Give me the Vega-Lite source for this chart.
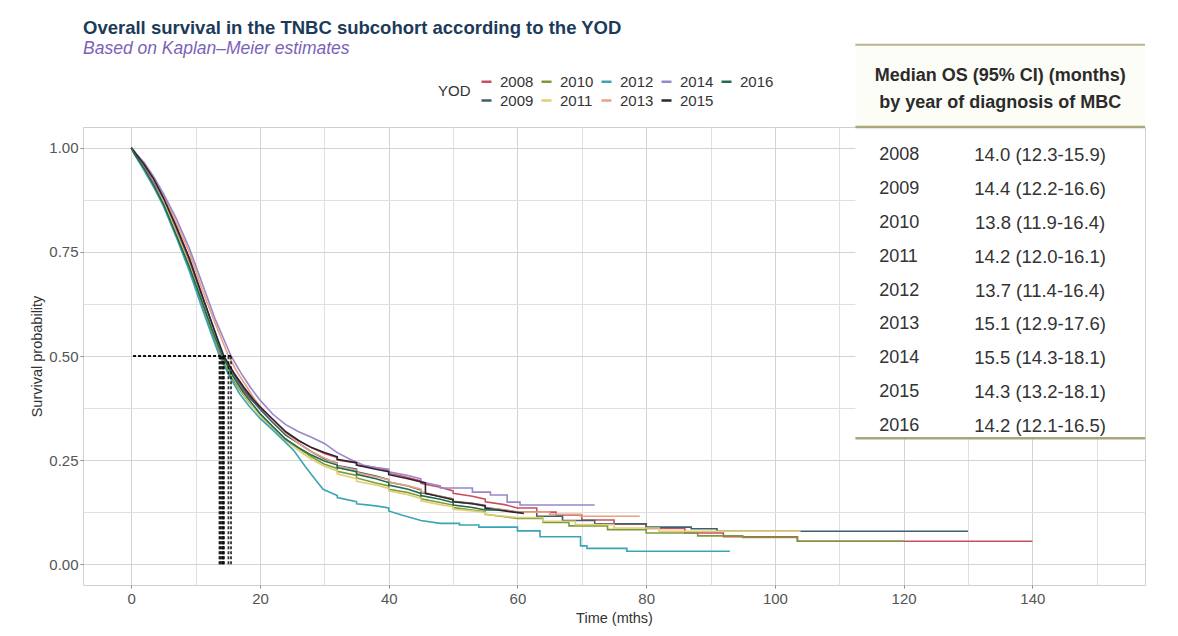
{
  "$schema": "https://vega.github.io/schema/vega-lite/v6.json",
  "width": 1062,
  "height": 458,
  "autosize": {"type": "none"},
  "padding": {"left": 83, "top": 127, "right": 33, "bottom": 51},
  "background": "white",
  "config": {
    "font": "Liberation Sans",
    "view": {"stroke": "#cfcfcf", "strokeWidth": 1},
    "axis": {"domain": false, "labelFont": "Liberation Sans", "labelColor": "#555555", "labelFontSize": 15, "titleFont": "Liberation Sans", "titleFontSize": 14.5, "titleFontWeight": "normal", "titleColor": "#333333", "tickColor": "#8a8a8a", "tickSize": 3, "gridWidth": 1}
  },
  "title": {
    "text": "Overall survival in the TNBC subcohort according to the YOD",
    "subtitle": "Based on Kaplan–Meier estimates",
    "anchor": "start",
    "frame": "group",
    "fontSize": 18.5,
    "fontWeight": "bold",
    "color": "#1c3b5a",
    "subtitleFontSize": 17.5,
    "subtitleFontStyle": "italic",
    "subtitleColor": "#7b62b8",
    "subtitlePadding": 3,
    "offset": -14
  },
  "datasets": {
    "km": [
      {"yod":"2008","t":0,"s":1},{"yod":"2008","t":0.5,"s":0.99},{"yod":"2008","t":2,"s":0.955},{"yod":"2008","t":3.5,"s":0.915},{"yod":"2008","t":5,"s":0.87},{"yod":"2008","t":7,"s":0.8},{"yod":"2008","t":9,"s":0.725},{"yod":"2008","t":11,"s":0.63},{"yod":"2008","t":12.5,"s":0.565},{"yod":"2008","t":14,"s":0.5},{"yod":"2008","t":15.5,"s":0.46},{"yod":"2008","t":17,"s":0.425},{"yod":"2008","t":18.5,"s":0.397},{"yod":"2008","t":20,"s":0.375},{"yod":"2008","t":22,"s":0.345},{"yod":"2008","t":24,"s":0.318},{"yod":"2008","t":26,"s":0.296},{"yod":"2008","t":28,"s":0.28},{"yod":"2008","t":30,"s":0.266},{"yod":"2008","t":32,"s":0.256},{"yod":"2008","t":32,"s":0.25},{"yod":"2008","t":35,"s":0.243},{"yod":"2008","t":35,"s":0.238},{"yod":"2008","t":38,"s":0.232},{"yod":"2008","t":40,"s":0.225},{"yod":"2008","t":40,"s":0.218},{"yod":"2008","t":42,"s":0.212},{"yod":"2008","t":45,"s":0.2},{"yod":"2008","t":45,"s":0.194},{"yod":"2008","t":48,"s":0.185},{"yod":"2008","t":50,"s":0.176},{"yod":"2008","t":50,"s":0.17},{"yod":"2008","t":53,"s":0.163},{"yod":"2008","t":55,"s":0.156},{"yod":"2008","t":55,"s":0.15},{"yod":"2008","t":58,"s":0.143},{"yod":"2008","t":60,"s":0.135},{"yod":"2008","t":63,"s":0.135},{"yod":"2008","t":63,"s":0.125},{"yod":"2008","t":66,"s":0.125},{"yod":"2008","t":66,"s":0.118},{"yod":"2008","t":70,"s":0.118},{"yod":"2008","t":70,"s":0.106},{"yod":"2008","t":75,"s":0.106},{"yod":"2008","t":75,"s":0.096},{"yod":"2008","t":80,"s":0.096},{"yod":"2008","t":80,"s":0.086},{"yod":"2008","t":86,"s":0.086},{"yod":"2008","t":86,"s":0.075},{"yod":"2008","t":92,"s":0.075},{"yod":"2008","t":92,"s":0.066},{"yod":"2008","t":103.5,"s":0.066},{"yod":"2008","t":103.5,"s":0.055},{"yod":"2008","t":140,"s":0.055},

      {"yod":"2009","t":0,"s":1},{"yod":"2009","t":0.5,"s":0.99},{"yod":"2009","t":2,"s":0.96},{"yod":"2009","t":3.5,"s":0.925},{"yod":"2009","t":5,"s":0.88},{"yod":"2009","t":7,"s":0.81},{"yod":"2009","t":9,"s":0.735},{"yod":"2009","t":11,"s":0.645},{"yod":"2009","t":12.5,"s":0.58},{"yod":"2009","t":14.4,"s":0.5},{"yod":"2009","t":16,"s":0.455},{"yod":"2009","t":17.5,"s":0.42},{"yod":"2009","t":19,"s":0.39},{"yod":"2009","t":20,"s":0.372},{"yod":"2009","t":22,"s":0.34},{"yod":"2009","t":24,"s":0.31},{"yod":"2009","t":26,"s":0.29},{"yod":"2009","t":28,"s":0.27},{"yod":"2009","t":30,"s":0.253},{"yod":"2009","t":32,"s":0.243},{"yod":"2009","t":32,"s":0.237},{"yod":"2009","t":35,"s":0.228},{"yod":"2009","t":35,"s":0.222},{"yod":"2009","t":38,"s":0.212},{"yod":"2009","t":40,"s":0.203},{"yod":"2009","t":40,"s":0.197},{"yod":"2009","t":43,"s":0.188},{"yod":"2009","t":45,"s":0.178},{"yod":"2009","t":45,"s":0.172},{"yod":"2009","t":48,"s":0.163},{"yod":"2009","t":50,"s":0.157},{"yod":"2009","t":50,"s":0.151},{"yod":"2009","t":53,"s":0.146},{"yod":"2009","t":55,"s":0.141},{"yod":"2009","t":55,"s":0.136},{"yod":"2009","t":58,"s":0.13},{"yod":"2009","t":60,"s":0.125},{"yod":"2009","t":63,"s":0.125},{"yod":"2009","t":63,"s":0.115},{"yod":"2009","t":67,"s":0.115},{"yod":"2009","t":67,"s":0.105},{"yod":"2009","t":72,"s":0.105},{"yod":"2009","t":72,"s":0.097},{"yod":"2009","t":80,"s":0.097},{"yod":"2009","t":80,"s":0.089},{"yod":"2009","t":87,"s":0.089},{"yod":"2009","t":87,"s":0.085},{"yod":"2009","t":91,"s":0.085},{"yod":"2009","t":91,"s":0.079},{"yod":"2009","t":130,"s":0.079},

      {"yod":"2010","t":0,"s":1},{"yod":"2010","t":0.5,"s":0.985},{"yod":"2010","t":2,"s":0.95},{"yod":"2010","t":3.5,"s":0.91},{"yod":"2010","t":5,"s":0.865},{"yod":"2010","t":7,"s":0.79},{"yod":"2010","t":9,"s":0.71},{"yod":"2010","t":11,"s":0.62},{"yod":"2010","t":12.5,"s":0.555},{"yod":"2010","t":13.8,"s":0.5},{"yod":"2010","t":15.5,"s":0.45},{"yod":"2010","t":17,"s":0.415},{"yod":"2010","t":18.5,"s":0.385},{"yod":"2010","t":20,"s":0.36},{"yod":"2010","t":22,"s":0.33},{"yod":"2010","t":24,"s":0.3},{"yod":"2010","t":26,"s":0.278},{"yod":"2010","t":28,"s":0.258},{"yod":"2010","t":30,"s":0.24},{"yod":"2010","t":32,"s":0.23},{"yod":"2010","t":32,"s":0.223},{"yod":"2010","t":35,"s":0.213},{"yod":"2010","t":35,"s":0.207},{"yod":"2010","t":38,"s":0.195},{"yod":"2010","t":40,"s":0.188},{"yod":"2010","t":40,"s":0.18},{"yod":"2010","t":43,"s":0.172},{"yod":"2010","t":45,"s":0.163},{"yod":"2010","t":45,"s":0.157},{"yod":"2010","t":48,"s":0.148},{"yod":"2010","t":50,"s":0.142},{"yod":"2010","t":50,"s":0.136},{"yod":"2010","t":53,"s":0.13},{"yod":"2010","t":55,"s":0.126},{"yod":"2010","t":55,"s":0.12},{"yod":"2010","t":58,"s":0.114},{"yod":"2010","t":60,"s":0.11},{"yod":"2010","t":64,"s":0.11},{"yod":"2010","t":64,"s":0.1},{"yod":"2010","t":68,"s":0.1},{"yod":"2010","t":68,"s":0.092},{"yod":"2010","t":74,"s":0.092},{"yod":"2010","t":74,"s":0.083},{"yod":"2010","t":80,"s":0.083},{"yod":"2010","t":80,"s":0.075},{"yod":"2010","t":88,"s":0.075},{"yod":"2010","t":88,"s":0.068},{"yod":"2010","t":95,"s":0.068},{"yod":"2010","t":95,"s":0.064},{"yod":"2010","t":103.5,"s":0.064},{"yod":"2010","t":103.5,"s":0.055},{"yod":"2010","t":120,"s":0.055},

      {"yod":"2011","t":0,"s":1},{"yod":"2011","t":0.5,"s":0.985},{"yod":"2011","t":2,"s":0.95},{"yod":"2011","t":3.5,"s":0.91},{"yod":"2011","t":5,"s":0.87},{"yod":"2011","t":7,"s":0.795},{"yod":"2011","t":9,"s":0.72},{"yod":"2011","t":11,"s":0.63},{"yod":"2011","t":12.5,"s":0.565},{"yod":"2011","t":14.2,"s":0.5},{"yod":"2011","t":15.8,"s":0.45},{"yod":"2011","t":17.3,"s":0.412},{"yod":"2011","t":18.8,"s":0.38},{"yod":"2011","t":20,"s":0.355},{"yod":"2011","t":22,"s":0.325},{"yod":"2011","t":24,"s":0.297},{"yod":"2011","t":26,"s":0.273},{"yod":"2011","t":28,"s":0.252},{"yod":"2011","t":30,"s":0.235},{"yod":"2011","t":32,"s":0.224},{"yod":"2011","t":32,"s":0.217},{"yod":"2011","t":35,"s":0.205},{"yod":"2011","t":35,"s":0.199},{"yod":"2011","t":38,"s":0.19},{"yod":"2011","t":40,"s":0.182},{"yod":"2011","t":40,"s":0.176},{"yod":"2011","t":43,"s":0.167},{"yod":"2011","t":45,"s":0.158},{"yod":"2011","t":45,"s":0.152},{"yod":"2011","t":48,"s":0.143},{"yod":"2011","t":50,"s":0.138},{"yod":"2011","t":50,"s":0.132},{"yod":"2011","t":53,"s":0.128},{"yod":"2011","t":55,"s":0.124},{"yod":"2011","t":55,"s":0.119},{"yod":"2011","t":58,"s":0.115},{"yod":"2011","t":60,"s":0.112},{"yod":"2011","t":64,"s":0.112},{"yod":"2011","t":64,"s":0.103},{"yod":"2011","t":69,"s":0.103},{"yod":"2011","t":69,"s":0.095},{"yod":"2011","t":75,"s":0.095},{"yod":"2011","t":75,"s":0.087},{"yod":"2011","t":82,"s":0.087},{"yod":"2011","t":82,"s":0.079},{"yod":"2011","t":104,"s":0.079},

      {"yod":"2012","t":0,"s":1},{"yod":"2012","t":0.5,"s":0.985},{"yod":"2012","t":2,"s":0.945},{"yod":"2012","t":3.5,"s":0.905},{"yod":"2012","t":5,"s":0.86},{"yod":"2012","t":7,"s":0.785},{"yod":"2012","t":9,"s":0.705},{"yod":"2012","t":11,"s":0.615},{"yod":"2012","t":12.5,"s":0.55},{"yod":"2012","t":13.7,"s":0.5},{"yod":"2012","t":15.3,"s":0.45},{"yod":"2012","t":16.8,"s":0.41},{"yod":"2012","t":18.3,"s":0.38},{"yod":"2012","t":20,"s":0.35},{"yod":"2012","t":22,"s":0.322},{"yod":"2012","t":24,"s":0.292},{"yod":"2012","t":25.2,"s":0.274},{"yod":"2012","t":27,"s":0.235},{"yod":"2012","t":28.5,"s":0.205},{"yod":"2012","t":29.8,"s":0.18},{"yod":"2012","t":32,"s":0.165},{"yod":"2012","t":32,"s":0.16},{"yod":"2012","t":35,"s":0.15},{"yod":"2012","t":35,"s":0.145},{"yod":"2012","t":38,"s":0.14},{"yod":"2012","t":40,"s":0.135},{"yod":"2012","t":40,"s":0.128},{"yod":"2012","t":42,"s":0.118},{"yod":"2012","t":45,"s":0.105},{"yod":"2012","t":48,"s":0.098},{"yod":"2012","t":51,"s":0.098},{"yod":"2012","t":51,"s":0.094},{"yod":"2012","t":54,"s":0.094},{"yod":"2012","t":54,"s":0.089},{"yod":"2012","t":60,"s":0.089},{"yod":"2012","t":60,"s":0.08},{"yod":"2012","t":63.5,"s":0.08},{"yod":"2012","t":63.5,"s":0.066},{"yod":"2012","t":69.8,"s":0.066},{"yod":"2012","t":69.8,"s":0.044},{"yod":"2012","t":70.8,"s":0.044},{"yod":"2012","t":70.8,"s":0.038},{"yod":"2012","t":77,"s":0.038},{"yod":"2012","t":77,"s":0.031},{"yod":"2012","t":93,"s":0.031},

      {"yod":"2013","t":0,"s":1},{"yod":"2013","t":0.5,"s":0.99},{"yod":"2013","t":2,"s":0.96},{"yod":"2013","t":3.5,"s":0.925},{"yod":"2013","t":5,"s":0.885},{"yod":"2013","t":7,"s":0.82},{"yod":"2013","t":9,"s":0.75},{"yod":"2013","t":11,"s":0.66},{"yod":"2013","t":13,"s":0.58},{"yod":"2013","t":15.1,"s":0.5},{"yod":"2013","t":16.5,"s":0.46},{"yod":"2013","t":18,"s":0.425},{"yod":"2013","t":19,"s":0.4},{"yod":"2013","t":20,"s":0.38},{"yod":"2013","t":22,"s":0.345},{"yod":"2013","t":24,"s":0.315},{"yod":"2013","t":26,"s":0.29},{"yod":"2013","t":28,"s":0.27},{"yod":"2013","t":30,"s":0.255},{"yod":"2013","t":32,"s":0.242},{"yod":"2013","t":32,"s":0.236},{"yod":"2013","t":35,"s":0.226},{"yod":"2013","t":35,"s":0.22},{"yod":"2013","t":38,"s":0.21},{"yod":"2013","t":40,"s":0.203},{"yod":"2013","t":40,"s":0.197},{"yod":"2013","t":43,"s":0.188},{"yod":"2013","t":45,"s":0.18},{"yod":"2013","t":45,"s":0.174},{"yod":"2013","t":48,"s":0.163},{"yod":"2013","t":50,"s":0.156},{"yod":"2013","t":50,"s":0.15},{"yod":"2013","t":53,"s":0.145},{"yod":"2013","t":55,"s":0.14},{"yod":"2013","t":55,"s":0.135},{"yod":"2013","t":58,"s":0.13},{"yod":"2013","t":60,"s":0.125},{"yod":"2013","t":65,"s":0.125},{"yod":"2013","t":65,"s":0.12},{"yod":"2013","t":69.8,"s":0.12},{"yod":"2013","t":69.8,"s":0.115},{"yod":"2013","t":79,"s":0.115},

      {"yod":"2014","t":0,"s":1},{"yod":"2014","t":0.5,"s":0.99},{"yod":"2014","t":2,"s":0.965},{"yod":"2014","t":3.5,"s":0.93},{"yod":"2014","t":5,"s":0.89},{"yod":"2014","t":7,"s":0.83},{"yod":"2014","t":9,"s":0.76},{"yod":"2014","t":11,"s":0.675},{"yod":"2014","t":13,"s":0.59},{"yod":"2014","t":15.5,"s":0.5},{"yod":"2014","t":17,"s":0.46},{"yod":"2014","t":18.5,"s":0.425},{"yod":"2014","t":20,"s":0.394},{"yod":"2014","t":22,"s":0.36},{"yod":"2014","t":24,"s":0.335},{"yod":"2014","t":26,"s":0.318},{"yod":"2014","t":28,"s":0.305},{"yod":"2014","t":30,"s":0.29},{"yod":"2014","t":32,"s":0.268},{"yod":"2014","t":34,"s":0.252},{"yod":"2014","t":36,"s":0.238},{"yod":"2014","t":38,"s":0.232},{"yod":"2014","t":40,"s":0.228},{"yod":"2014","t":40,"s":0.222},{"yod":"2014","t":43,"s":0.213},{"yod":"2014","t":45,"s":0.205},{"yod":"2014","t":45,"s":0.198},{"yod":"2014","t":48,"s":0.188},{"yod":"2014","t":48,"s":0.183},{"yod":"2014","t":53,"s":0.183},{"yod":"2014","t":53,"s":0.173},{"yod":"2014","t":55.8,"s":0.173},{"yod":"2014","t":55.8,"s":0.166},{"yod":"2014","t":58.4,"s":0.166},{"yod":"2014","t":58.4,"s":0.149},{"yod":"2014","t":60.4,"s":0.149},{"yod":"2014","t":60.4,"s":0.142},{"yod":"2014","t":72,"s":0.142},

      {"yod":"2015","t":0,"s":1},{"yod":"2015","t":0.5,"s":0.99},{"yod":"2015","t":2,"s":0.96},{"yod":"2015","t":3.5,"s":0.925},{"yod":"2015","t":5,"s":0.88},{"yod":"2015","t":7,"s":0.81},{"yod":"2015","t":9,"s":0.735},{"yod":"2015","t":11,"s":0.645},{"yod":"2015","t":12.5,"s":0.58},{"yod":"2015","t":14.3,"s":0.5},{"yod":"2015","t":16,"s":0.458},{"yod":"2015","t":17.5,"s":0.425},{"yod":"2015","t":19,"s":0.395},{"yod":"2015","t":20,"s":0.378},{"yod":"2015","t":22,"s":0.348},{"yod":"2015","t":24,"s":0.318},{"yod":"2015","t":26,"s":0.297},{"yod":"2015","t":28,"s":0.28},{"yod":"2015","t":30,"s":0.268},{"yod":"2015","t":32,"s":0.258},{"yod":"2015","t":32,"s":0.252},{"yod":"2015","t":35,"s":0.244},{"yod":"2015","t":35,"s":0.238},{"yod":"2015","t":38,"s":0.228},{"yod":"2015","t":40,"s":0.222},{"yod":"2015","t":40,"s":0.215},{"yod":"2015","t":43,"s":0.205},{"yod":"2015","t":45.7,"s":0.195},{"yod":"2015","t":45.7,"s":0.17},{"yod":"2015","t":48,"s":0.162},{"yod":"2015","t":50,"s":0.155},{"yod":"2015","t":50,"s":0.15},{"yod":"2015","t":53,"s":0.145},{"yod":"2015","t":55,"s":0.14},{"yod":"2015","t":55,"s":0.134},{"yod":"2015","t":58,"s":0.128},{"yod":"2015","t":61,"s":0.122},

      {"yod":"2016","t":0,"s":1},{"yod":"2016","t":0.5,"s":0.985},{"yod":"2016","t":2,"s":0.95},{"yod":"2016","t":3.5,"s":0.91},{"yod":"2016","t":5,"s":0.865},{"yod":"2016","t":7,"s":0.79},{"yod":"2016","t":9,"s":0.715},{"yod":"2016","t":11,"s":0.63},{"yod":"2016","t":12.5,"s":0.565},{"yod":"2016","t":14.2,"s":0.5},{"yod":"2016","t":15.8,"s":0.452},{"yod":"2016","t":17.3,"s":0.415},{"yod":"2016","t":18.8,"s":0.385},{"yod":"2016","t":20,"s":0.362},{"yod":"2016","t":22,"s":0.33},{"yod":"2016","t":24,"s":0.3},{"yod":"2016","t":26,"s":0.28},{"yod":"2016","t":28,"s":0.262},{"yod":"2016","t":30,"s":0.248},{"yod":"2016","t":32,"s":0.238},{"yod":"2016","t":32,"s":0.232},{"yod":"2016","t":35,"s":0.222},{"yod":"2016","t":35,"s":0.216},{"yod":"2016","t":38,"s":0.205},{"yod":"2016","t":40,"s":0.196},{"yod":"2016","t":40,"s":0.19},{"yod":"2016","t":43,"s":0.18},{"yod":"2016","t":45,"s":0.17},{"yod":"2016","t":45,"s":0.165},{"yod":"2016","t":48,"s":0.156},{"yod":"2016","t":50,"s":0.148},{"yod":"2016","t":50,"s":0.142},{"yod":"2016","t":53,"s":0.136},{"yod":"2016","t":55,"s":0.13},{"yod":"2016","t":57,"s":0.13}
    ],
    "med": [
      {"yod":"2008","m":14.0},{"yod":"2009","m":14.4},{"yod":"2010","m":13.8},{"yod":"2011","m":14.2},{"yod":"2012","m":13.7},{"yod":"2013","m":15.1},{"yod":"2014","m":15.5},{"yod":"2015","m":14.3},{"yod":"2016","m":14.2}
    ],
    "tbl": [
      {"year":2008,"os":"14.0 (12.3-15.9)"},{"year":2009,"os":"14.4 (12.2-16.6)"},{"year":2010,"os":"13.8 (11.9-16.4)"},{"year":2011,"os":"14.2 (12.0-16.1)"},{"year":2012,"os":"13.7 (11.4-16.4)"},{"year":2013,"os":"15.1 (12.9-17.6)"},{"year":2014,"os":"15.5 (14.3-18.1)"},{"year":2015,"os":"14.3 (13.2-18.1)"},{"year":2016,"os":"14.2 (12.1-16.5)"}
    ]
  },
  "layer": [
    {
      "layer": [
        {
          "data": {"name": "km"},
          "mark": {"type": "line", "strokeWidth": 1.6, "interpolate": "linear"},
          "encoding": {
            "x": {"field": "t", "type": "quantitative",
              "scale": {"domain": [-7.5, 157.5], "nice": false, "zero": false},
              "axis": {"title": "Time (mths)", "values": [0,10,20,30,40,50,60,70,80,90,100,110,120,130,140,150],
                "labelExpr": "datum.value % 20 === 0 ? datum.label : ''",
                "tickOpacity": {"condition": {"test": "datum.value % 20 === 0", "value": 1}, "value": 0},
                "gridColor": {"condition": {"test": "datum.value % 20 === 0", "value": "#d3d3d3"}, "value": "#e0e0e0"},
                "labelPadding": 3, "titlePadding": 5}},
            "y": {"field": "s", "type": "quantitative",
              "scale": {"domain": [-0.05, 1.05], "nice": false, "zero": false},
              "axis": {"title": "Survival probability", "values": [0,0.125,0.25,0.375,0.5,0.625,0.75,0.875,1], "format": ".2f",
                "labelExpr": "(datum.value * 8) % 2 === 0 ? datum.label : ''",
                "tickOpacity": {"condition": {"test": "(datum.value * 8) % 2 === 0", "value": 1}, "value": 0},
                "gridColor": {"condition": {"test": "(datum.value * 8) % 2 === 0", "value": "#d3d3d3"}, "value": "#e0e0e0"},
                "labelPadding": 2, "titlePadding": 4}},
            "color": {"field": "yod", "type": "nominal",
              "scale": {"domain": ["2008","2010","2012","2014","2016","2009","2011","2013","2015"],
                "range": ["#c9505e","#7d9a3a","#3aa5b5","#9a86c8","#236b4f","#3f5e70","#e2cf72","#eba07f","#2e2530"]},
              "legend": {"orient": "none", "legendX": 355, "legendY": -53, "direction": "horizontal", "columns": 5,
                "title": "YOD", "titleOrient": "left", "titleAnchor": "middle", "titleBaseline": "middle", "titleFontSize": 15, "titleFontWeight": "normal", "titleColor": "#333333", "titlePadding": 8,
                "labelFontSize": 15, "labelColor": "#333333", "labelOffset": 6,
                "symbolType": "stroke", "symbolStrokeWidth": 2.5, "symbolSize": 100, "columnPadding": 2, "rowPadding": 3}}
          }
        },
        {
          "data": {"name": "med"},
          "mark": {"type": "rule", "strokeDash": [3, 2], "strokeWidth": 1.8, "color": "#111111", "opacity": 0.85},
          "encoding": {"x": {"field": "m", "type": "quantitative"}, "y": {"datum": 0}, "y2": {"datum": 0.5}}
        },
        {
          "data": {"name": "med"},
          "transform": [{"aggregate": [{"op": "max", "field": "m", "as": "mx"}]}],
          "mark": {"type": "rule", "strokeDash": [3, 2], "strokeWidth": 2, "color": "#111111"},
          "encoding": {"x": {"field": "mx", "type": "quantitative"}, "x2": {"datum": 0}, "y": {"datum": 0.5}}
        },
        {
          "data": {"values": [{}]},
          "mark": {"type": "rect", "fill": "#fdfdf7"},
          "encoding": {"x": {"datum": 112.5}, "x2": {"datum": 157.5}, "y": {"datum": 1.05}, "y2": {"datum": 1.2475}}
        },
        {
          "data": {"values": [{}]},
          "mark": {"type": "rect", "fill": "#ffffff"},
          "encoding": {"x": {"datum": 112.5}, "x2": {"datum": 157.5}, "y": {"datum": 0.3024}, "y2": {"datum": 1.05}}
        },
        {
          "data": {"values": [{}]},
          "mark": {"type": "rule", "color": "#b8b48c", "strokeWidth": 2},
          "encoding": {"x": {"datum": 112.5}, "x2": {"datum": 157.5}, "y": {"datum": 1.2475}}
        },
        {
          "data": {"values": [{}]},
          "mark": {"type": "rule", "color": "#aaa67c", "strokeWidth": 2.5},
          "encoding": {"x": {"datum": 112.5}, "x2": {"datum": 157.5}, "y": {"datum": 1.05}}
        },
        {
          "data": {"values": [{}]},
          "mark": {"type": "rule", "color": "#aaa67c", "strokeWidth": 2.5},
          "encoding": {"x": {"datum": 112.5}, "x2": {"datum": 157.5}, "y": {"datum": 0.3024}}
        },
        {
          "data": {"values": [{}]},
          "mark": {"type": "text", "text": ["Median OS (95% CI) (months)", "by year of diagnosis of MBC"], "fontSize": 18, "fontWeight": "bold", "color": "#2b2b2b", "lineHeight": 27, "baseline": "middle", "align": "center"},
          "encoding": {"x": {"datum": 135.0}, "y": {"datum": 1.172}}
        }
      ]
    },
    {
      "data": {"name": "tbl"},
      "layer": [
        {
          "mark": {"type": "text", "align": "left", "baseline": "middle", "fontSize": 18, "color": "#333333"},
          "encoding": {
            "x": {"datum": 116.2},
            "y": {"field": "year", "type": "quantitative", "scale": {"domain": [2007.17, 2020.69], "reverse": true, "nice": false, "zero": false}, "axis": null},
            "text": {"field": "year", "type": "quantitative", "format": "d"}
          }
        },
        {
          "mark": {"type": "text", "align": "center", "baseline": "middle", "fontSize": 18.5, "color": "#333333"},
          "encoding": {
            "x": {"datum": 141.2},
            "y": {"field": "year", "type": "quantitative", "axis": null},
            "text": {"field": "os", "type": "nominal"}
          }
        }
      ]
    }
  ],
  "resolve": {"scale": {"y": "independent"}}
}
